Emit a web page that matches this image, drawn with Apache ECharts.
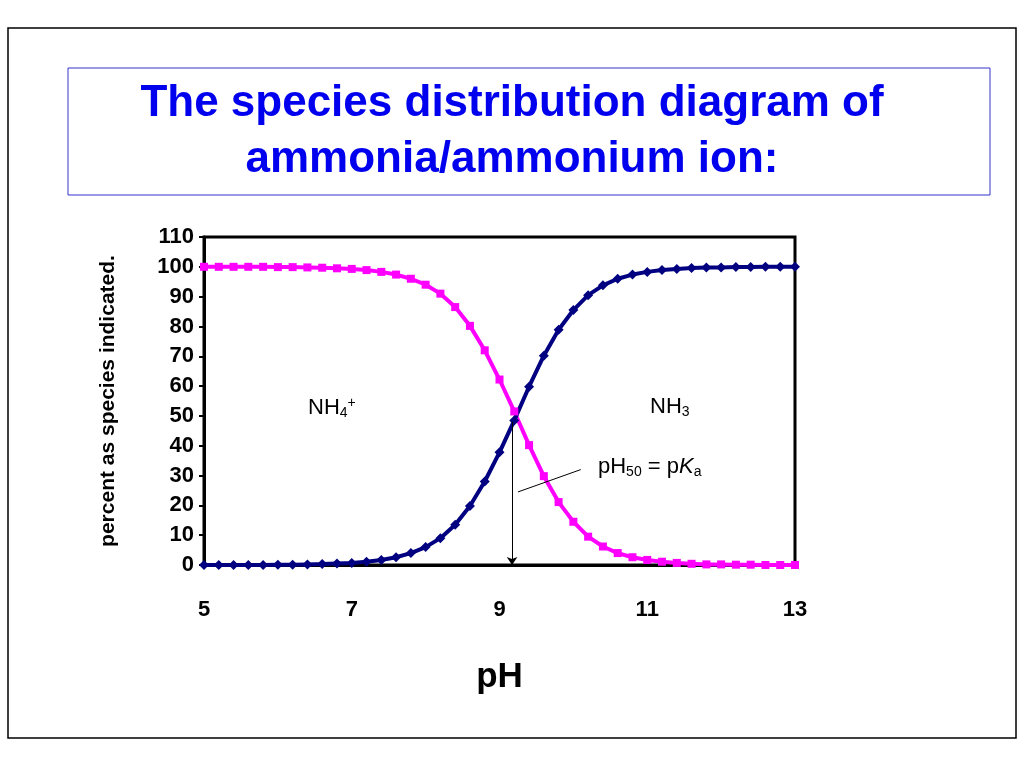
<!DOCTYPE html>
<html><head><meta charset="utf-8">
<script src="https://cdn.jsdelivr.net/npm/echarts@6/dist/echarts.min.js"></script>
<style>html,body{margin:0;background:#fff}#c{width:1024px;height:768px}</style>
</head><body><div id="c"></div>
<script>
var ph = [5,5.2,5.4,5.6,5.8,6,6.2,6.4,6.6,6.8,7,7.2,7.4,7.6,7.8,8,8.2,8.4,8.6,8.8,9,9.2,9.4,9.6,9.8,10,10.2,10.4,10.6,10.8,11,11.2,11.4,11.6,11.8,12,12.2,12.4,12.6,12.8,13];
var nh3 = [0,0,0,0,0,0.1,0.1,0.2,0.3,0.5,0.7,1.1,1.7,2.6,4,6,9,13.5,19.8,28,37.8,48.5,59.8,70.2,78.9,85.5,90.5,93.8,96,97.4,98.3,98.9,99.3,99.6,99.8,99.8,99.9,99.9,100,100,100];
var nh4 = [100,100,100,100,100,99.9,99.9,99.8,99.7,99.5,99.3,98.9,98.3,97.4,96,94,91,86.5,80.2,72,62.2,51.5,40.2,29.8,21.1,14.5,9.5,6.2,4,2.6,1.7,1.1,0.7,0.4,0.2,0.2,0.1,0.1,0,0,0];

function pairs(v){ return ph.map(function(x,i){ return [x, v[i]]; }); }

var chart = echarts.init(document.getElementById('c'));
var bold = {fontFamily:'Liberation Sans', fontWeight:'bold', color:'#000'};
chart.setOption({
  animation:false,
  textStyle:{fontFamily:'Liberation Sans'},
  grid:{left:204,right:229,top:237,bottom:203,show:true,borderColor:'#000',borderWidth:3},
  xAxis:{type:'value',min:5,max:13,interval:2,
    axisLine:{lineStyle:{color:'#000',width:3}},axisTick:{show:false},splitLine:{show:false},
    axisLabel:Object.assign({fontSize:22,margin:34},bold),
    name:'pH',nameLocation:'middle',nameGap:95,nameTextStyle:Object.assign({fontSize:35},bold)},
  yAxis:{type:'value',min:0,max:110,interval:10,
    axisLine:{lineStyle:{color:'#000',width:3}},axisTick:{show:true,length:5,lineStyle:{color:'#000',width:2}},splitLine:{show:false},
    axisLabel:Object.assign({fontSize:22,margin:10},bold),
    name:'percent as species indicated.',nameLocation:'middle',nameGap:85,nameTextStyle:Object.assign({fontSize:21},bold)},
  series:[
    {type:'line',data:pairs(nh4),symbol:'rect',symbolSize:8,showSymbol:true,
     lineStyle:{color:'#ff00ff',width:4},itemStyle:{color:'#ff00ff'}},
    {type:'line',data:pairs(nh3),symbol:'diamond',symbolSize:10,showSymbol:true,
     lineStyle:{color:'#000080',width:4},itemStyle:{color:'#000080'},
     markLine:{silent:true,symbol:['none','none'],label:{show:false},
       lineStyle:{color:'#000',width:1,type:'solid'},
       data:[
         [{coord:[9.17,48],symbol:'none'},{coord:[9.17,0],symbol:'arrow',symbolSize:8}],
         [{coord:[9.25,24.5]},{coord:[10.1,32]}]
       ]}}
  ],
  graphic:[
    {type:'rect',shape:{x:8,y:28,width:1008,height:710},style:{fill:'none',stroke:'#000',lineWidth:1.5}},
    {type:'rect',shape:{x:68,y:68,width:922,height:127},style:{fill:'none',stroke:'#3333cc',lineWidth:1}},
    {type:'text',left:'center',top:76,style:{text:'The species distribution diagram of\nammonia/ammonium ion:',
      fill:'#0000ee',font:'bold 44px "Liberation Sans"',textAlign:'center',lineHeight:56}},
    {type:'text',left:308,top:396,style:{text:'NH{sub|4}{sup|+}',font:'22px "Liberation Sans"',fill:'#000',
      rich:{sub:{fontSize:14,padding:[10,0,0,0]},sup:{fontSize:14,padding:[0,0,10,0]}}}},
    {type:'text',left:650,top:396,style:{text:'NH{sub|3}',font:'22px "Liberation Sans"',fill:'#000',
      rich:{sub:{fontSize:14,padding:[10,0,0,0]}}}},
    {type:'text',left:598,top:456,style:{text:'pH{sub|50} = p{it|K}{sub|a}',font:'22px "Liberation Sans"',fill:'#000',
      rich:{sub:{fontSize:14,padding:[10,0,0,0]},it:{fontSize:22,fontStyle:'italic'}}}}
  ]
});
</script></body></html>
